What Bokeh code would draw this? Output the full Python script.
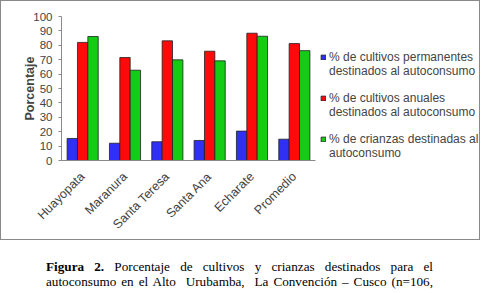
import math
from bokeh.plotting import figure
from bokeh.models import ColumnDataSource, FactorRange, Range1d, Legend, LegendItem, Div, FixedTicker
from bokeh.transform import dodge
from bokeh.layouts import column, row
from bokeh.embed import file_html
from bokeh.resources import INLINE

categories = ["Huayopata", "Maranura", "Santa Teresa", "Santa Ana", "Echarate", "Promedio"]
permanentes = [15.3, 12.0, 13.0, 13.9, 20.4, 14.8]
anuales = [82.0, 71.5, 83.1, 75.9, 88.4, 81.2]
crianzas = [86.1, 62.7, 69.9, 69.2, 86.3, 76.3]
series_labels = [
    ["% de cultivos permanentes", "destinados al autoconsumo"],
    ["% de cultivos anuales", "destinados al autoconsumo"],
    ["% de crianzas destinadas al", "autoconsumo"],
]
series_colors = ["#3030f5", "#ff0a0a", "#14cc14"]
y_ticks = list(range(0, 101, 10))

src = ColumnDataSource(dict(cat=categories, perm=permanentes, anu=anuales, cri=crianzas))

H = 238
p = figure(x_range=FactorRange(factors=categories, range_padding=0), y_range=(0, 100),
           width=316, height=H, output_backend="svg", toolbar_location=None,
           min_border_left=60, min_border_right=2, min_border_top=15, min_border_bottom=79)

bw = 0.245
for col, off, color in zip(["perm", "anu", "cri"], [-bw, 0, bw], series_colors):
    p.vbar(x=dodge("cat", off, range=p.x_range), top=col, width=bw, source=src,
           fill_color=color, line_color="#202020", line_width=0.8)

p.outline_line_color = None
p.xgrid.grid_line_color = None
p.ygrid.grid_line_color = None

p.yaxis.ticker = FixedTicker(ticks=y_ticks)
p.yaxis.axis_label = "Porcentaje"
p.yaxis.axis_label_text_font = "Liberation Sans"
p.yaxis.axis_label_text_font_style = "bold"
p.yaxis.axis_label_text_font_size = "12.5px"
p.yaxis.axis_label_standoff = -7
p.yaxis.major_label_text_font = "Liberation Sans"
p.yaxis.major_label_text_font_size = "11.5px"
p.yaxis.major_label_standoff = 6
p.yaxis.axis_line_color = "#8a8a8a"
p.yaxis.major_tick_line_color = "#8a8a8a"
p.yaxis.major_tick_out = 3
p.yaxis.major_tick_in = 0
p.yaxis.minor_tick_line_color = None

p.xaxis.axis_line_color = "#8a8a8a"
p.xaxis.major_tick_line_color = None
p.xaxis.minor_tick_line_color = None
p.xaxis.major_label_orientation = math.pi / 4
p.xaxis.major_label_text_font = "Liberation Sans"
p.xaxis.major_label_text_font_size = "12.5px"
p.xaxis.major_label_standoff = 8

# legend panel: proxy renderers share the data but cannot map onto this panel's numeric x-range
lg = figure(width=162, height=H, output_backend="svg", toolbar_location=None,
            x_range=Range1d(0, 1), y_range=Range1d(1000, 1001), min_border=0)
lg.axis.visible = False
lg.grid.visible = False
lg.outline_line_color = None

items = []
for i, ((l1, l2), col, color) in enumerate(zip(series_labels, ["perm", "anu", "cri"], series_colors)):
    proxy = lg.vbar(x="cat", top=col, width=0.2, source=src,
                    fill_color=color, line_color="#202020", line_width=0.8)
    items.append(LegendItem(label=l1, renderers=[proxy]))
    items.append(LegendItem(label=l2, renderers=[]))
    if i < len(series_labels) - 1:
        items.append(LegendItem(label=" ", renderers=[]))

legend = Legend(items=items, location=(3, 0))
legend.border_line_color = None
legend.background_fill_alpha = 0
legend.label_text_font = "Liberation Sans"
legend.label_text_font_size = "12px"
legend.label_height = 13
legend.glyph_width = 6
legend.glyph_height = 6
legend.spacing = 0
legend.padding = 3
legend.margin = 0
legend.label_standoff = 3
lg.add_layout(legend, "center")

boxed = column(row(p, lg, spacing=0), styles={"border": "1px solid #8a8a8a"}, width=480, height=240)

line_style = ("width:387px;margin-left:41px;text-align:justify;text-align-last:justify;"
              "white-space:normal;font-family:'Liberation Serif';font-size:13.2px;line-height:15px;")
caption = Div(
    text=(f"<div style=\"{line_style}\"><b>Figura 2.</b> Porcentaje de cultivos y crianzas destinados para el</div>"
          f"<div style=\"{line_style}\">autoconsumo en el Alto&nbsp; Urubamba,&nbsp; La Convención – Cusco (n=106,</div>"),
    width=480, height=37,
    styles={"padding-top": "14px"})

layout = column(boxed, caption, spacing=0)
open("out.html", "w").write(file_html(layout, INLINE))
